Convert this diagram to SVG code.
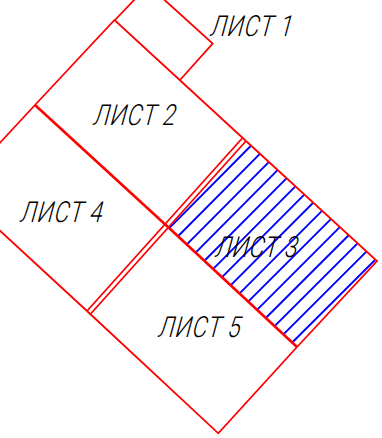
<svg xmlns="http://www.w3.org/2000/svg" width="382" height="438" viewBox="0 0 382 438">
<style>
.e{fill:none;stroke:#f00;stroke-width:1.8;stroke-linejoin:miter}
.t{fill:none;stroke:#f00;stroke-width:2.6}
.h{stroke:#00f;stroke-width:1.9}
.l{font-family:"Roboto","Liberation Sans",sans-serif;font-weight:300;font-size:29px;fill:#000}
</style>
<rect width="382" height="438" fill="#fff"/>
<g id="connectors">
<path class="h" d="M250.7 146L169.5 227.9M259.6 154.1L178.3 236M268.5 162.3L187.1 244.2M277.3 170.4L195.9 252.3M286.2 178.6L204.7 260.5M295.1 186.7L213.5 268.6M304 194.8L222.3 276.8M312.9 203L231.1 284.9M321.7 211.1L239.9 293.1M330.6 219.3L248.7 301.2M339.5 227.4L257.5 309.4M348.4 235.5L266.3 317.5M357.3 243.7L275.1 325.7M366.1 251.8L283.9 333.8M375 260L292.7 342"/>
<path class="e" d="M87 311L242 138.5M90.5 314L246 141"/>
</g>
<g id="sheet-1">
<path class="e" d="M115 20L136 -2M163.5 -1L212.7 43.5L180 80"/>
<text class="l" textLength="105" transform="translate(209 36) skewX(-15) scale(.78 1)">ЛИСТ 1</text>
</g>
<g id="sheet-2">
<path class="e" d="M35 105L114.5 20L246 141"/>
<text class="l" textLength="105" transform="translate(92 125) skewX(-15) scale(.78 1)">ЛИСТ 2</text>
</g>
<g id="sheet-3">
<path class="e" d="M246 141L377 261L297 347"/>
<path class="t" d="M168 227L297 347"/>
<text class="l" textLength="105" transform="translate(214 257) skewX(-15) scale(.78 1)">ЛИСТ 3</text>
</g>
<g id="sheet-4">
<path class="e" d="M35 105L-3 146M-3 228L87 311"/>
<path class="t" d="M35 105L168 227"/>
<text class="l" textLength="105" transform="translate(19 222) skewX(-15) scale(.78 1)">ЛИСТ 4</text>
</g>
<g id="sheet-5">
<path class="e" d="M87 311L218.3 433.3L297 347"/>
<text class="l" textLength="105" transform="translate(157 337) skewX(-15) scale(.78 1)">ЛИСТ 5</text>
</g>
</svg>
